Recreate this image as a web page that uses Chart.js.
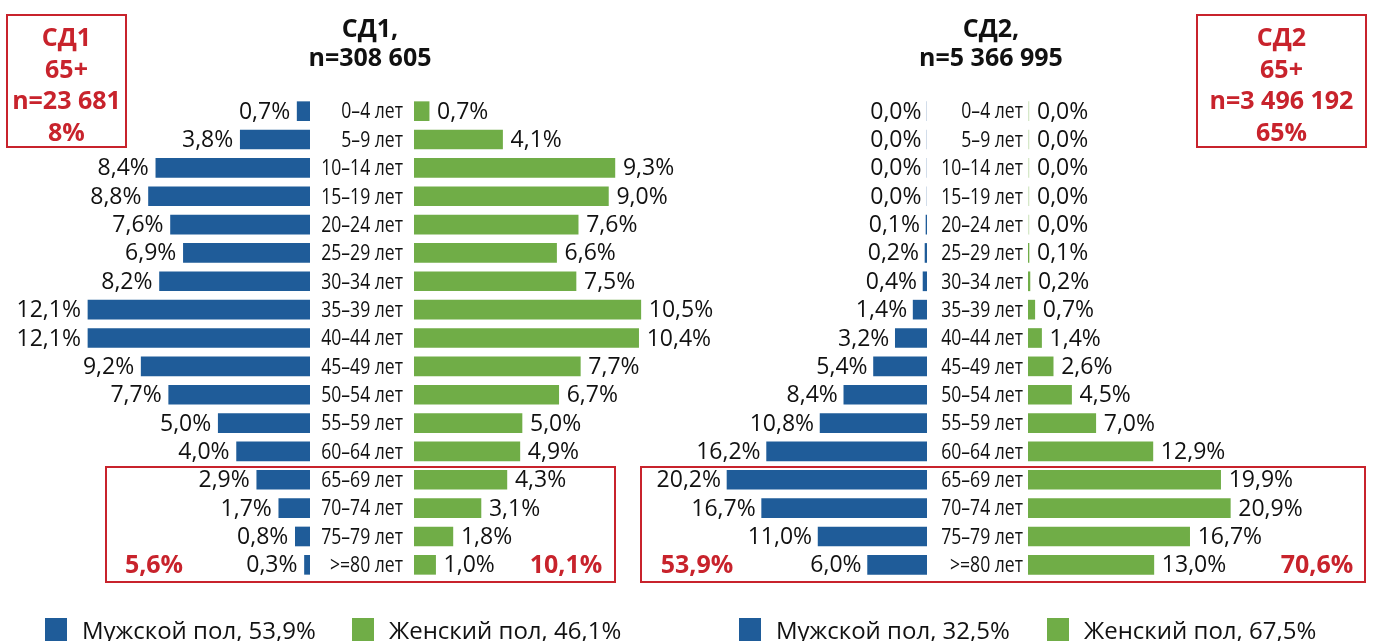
<!DOCTYPE html>
<html lang="ru">
<head>
<meta charset="utf-8">
<script src="https://cdn.jsdelivr.net/npm/chart.js@4.4.0/dist/chart.umd.min.js"></script>
<style>
html, body { margin: 0; padding: 0; background: #fff; overflow: hidden; }
#wrap { position: relative; width: 1375px; height: 641px; font-family: "Open Sans", sans-serif; color: #111; }
#wrap canvas { position: absolute; left: 0; top: 0; }
.title { position: absolute; width: 300px; text-align: center; font-weight: bold; font-size: 25px; line-height: 29px; }
.box { position: absolute; border: 2px solid #c8232c; box-sizing: border-box; }
.red { position: absolute; color: #c8232c; font-weight: bold; font-size: 25px; text-align: center; }
.redbox { line-height: 31.5px; }
.leg { position: absolute; top: 618px; font-size: 24px; line-height: 23px; white-space: nowrap; }
.leg i { display: inline-block; width: 22px; height: 23px; vertical-align: top; margin-right: 15px; }
</style>
</head>
<body>
<div id="wrap">
  <canvas id="m1" width="1375" height="641"></canvas>
  <canvas id="f1" width="1375" height="641"></canvas>
  <canvas id="m2" width="1375" height="641"></canvas>
  <canvas id="f2" width="1375" height="641"></canvas>

  <div class="title" style="left:220px;top:13px">СД1,<br>n=308 605</div>
  <div class="title" style="left:841px;top:13px">СД2,<br>n=5 366 995</div>

  <div class="box" style="left:6px;top:14px;width:121px;height:134px"></div>
  <div class="red redbox" style="left:6px;top:21px;width:121px">СД1<br>65+<br>n=23 681<br>8%</div>
  <div class="box" style="left:1196px;top:14px;width:171px;height:134px"></div>
  <div class="red redbox" style="left:1196px;top:21px;width:171px">СД2<br>65+<br>n=3 496 192<br>65%</div>

  <div class="box" style="left:105px;top:466px;width:511px;height:117px"></div>
  <div class="box" style="left:640px;top:466px;width:726px;height:117px"></div>
  <div class="red" style="left:104px;top:546px;width:100px">5,6%</div>
  <div class="red" style="left:516px;top:546px;width:100px">10,1%</div>
  <div class="red" style="left:647px;top:546px;width:100px">53,9%</div>
  <div class="red" style="left:1267px;top:546px;width:100px">70,6%</div>

  <div class="leg" style="left:45px"><i style="background:#1f5c99"></i>Мужской пол, 53,9%</div>
  <div class="leg" style="left:352px"><i style="background:#70ad47"></i>Женский пол, 46,1%</div>
  <div class="leg" style="left:739px"><i style="background:#1f5c99"></i>Мужской пол, 32,5%</div>
  <div class="leg" style="left:1047px"><i style="background:#70ad47"></i>Женский пол, 67,5%</div>
</div>
<script>
var ages = ["0–4 лет", "5–9 лет", "10–14 лет", "15–19 лет", "20–24 лет", "25–29 лет", "30–34 лет",
  "35–39 лет", "40–44 лет", "45–49 лет", "50–54 лет", "55–59 лет", "60–64 лет",
  "65–69 лет", "70–74 лет", "75–79 лет", ">=80 лет"];

var sd1Male   = [0.7, 3.8, 8.4, 8.8, 7.6, 6.9, 8.2, 12.1, 12.1, 9.2, 7.7, 5.0, 4.0, 2.9, 1.7, 0.8, 0.3];
var sd1Female = [0.7, 4.1, 9.3, 9.0, 7.6, 6.6, 7.5, 10.5, 10.4, 7.7, 6.7, 5.0, 4.9, 4.3, 3.1, 1.8, 1.0];
var sd2Male   = [0.0, 0.0, 0.0, 0.0, 0.1, 0.2, 0.4, 1.4, 3.2, 5.4, 8.4, 10.8, 16.2, 20.2, 16.7, 11.0, 6.0];
var sd2Female = [0.0, 0.0, 0.0, 0.0, 0.0, 0.1, 0.2, 0.7, 1.4, 2.6, 4.5, 7.0, 12.9, 19.9, 20.9, 16.7, 13.0];

var BLUE = "#1f5c99", GREEN = "#70ad47";

// подписи значений у конца каждого столбца
var valueLabels = {
  id: "valueLabels",
  afterDatasetsDraw: function (chart, args, opts) {
    var c = chart.ctx;
    var meta = chart.getDatasetMeta(0);
    var data = chart.data.datasets[0].data;
    c.save();
    c.font = '23px "Open Sans", sans-serif';
    c.fillStyle = "#111";
    c.textBaseline = "middle";
    c.textAlign = opts.side === "left" ? "right" : "left";
    meta.data.forEach(function (bar, i) {
      var txt = data[i].toFixed(1).replace(".", ",") + "%";
      var x = opts.side === "left" ? bar.x - opts.gap : bar.x + opts.gap;
      c.fillText(txt, x, bar.y + 1);
    });
    c.restore();
  }
};

// возрастные группы между половинами (узкий шрифт — сжимаем по горизонтали)
var ageLabels = {
  id: "ageLabels",
  afterDraw: function (chart, args, opts) {
    if (!opts.show) return;
    var c = chart.ctx;
    var y = chart.scales.y;
    var x0 = chart.chartArea.left - opts.pad;
    c.save();
    c.font = '22px "Open Sans", sans-serif';
    c.fillStyle = "#111";
    c.textBaseline = "middle";
    c.textAlign = "right";
    chart.data.labels.forEach(function (lab, i) {
      c.save();
      c.translate(x0, y.getPixelForValue(i) + 1);
      c.scale(0.8, 1);
      c.fillText(lab, 0, 0);
      c.restore();
    });
    c.restore();
  }
};

// одна половина пирамиды: left..right — область графика, pxPer — пикселей на 1%
function half(id, values, color, pale, o) {
  var max = (o.right - o.left) / o.pxPer;
  new Chart(document.getElementById(id), {
    type: "bar",
    data: {
      labels: ages,
      datasets: [{
        data: values,
        backgroundColor: function (ctx) { return ctx.raw === 0 ? pale : color; },
        barThickness: 19,
        minBarLength: 1
      }]
    },
    plugins: [valueLabels, ageLabels],
    options: {
      indexAxis: "y",
      responsive: false,
      animation: false,
      events: [],
      layout: {
        padding: { left: o.left, right: 1375 - o.right, top: 97, bottom: 641 - 579 }
      },
      scales: {
        x: { type: "linear", min: 0, max: max, reverse: o.side === "left", display: false },
        y: { display: false }
      },
      plugins: {
        legend: { display: false },
        tooltip: { enabled: false },
        valueLabels: { side: o.side, gap: o.gap },
        ageLabels: { show: o.side === "right", pad: o.agePad || 10 }
      }
    }
  });
}

half("m1", sd1Male, BLUE, "#c9d6e6", { side: "left", left: 10, right: 310, pxPer: 18.35, gap: 7 });
half("f1", sd1Female, GREEN, "#d6e8c9", { side: "right", left: 414, right: 714, pxPer: 21.6, gap: 8, agePad: 11 });
half("m2", sd2Male, BLUE, "#c9d6e6", { side: "left", left: 660, right: 927, pxPer: 9.9, gap: 6 });
half("f2", sd2Female, GREEN, "#d6e8c9", { side: "right", left: 1028, right: 1300, pxPer: 9.68, gap: 8, agePad: 5 });
</script>
</body>
</html>
